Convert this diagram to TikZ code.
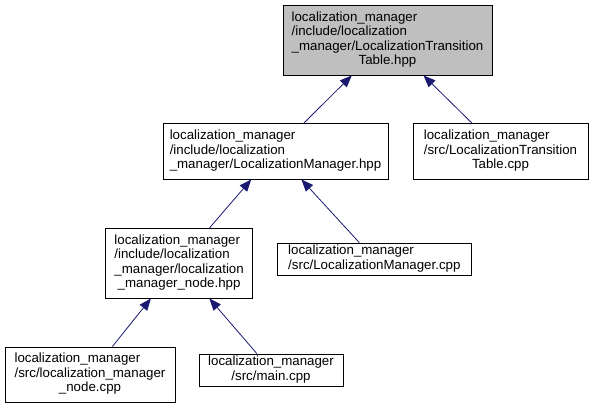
\documentclass[tikz,border=0pt]{standalone}
\usepackage{fontspec}
\setmainfont{Liberation Sans}
\usetikzlibrary{arrows.meta}
\definecolor{edgeblue}{RGB}{25,25,112}
\definecolor{nodegray}{RGB}{191,191,191}
\newcommand{\lastline}[1]{\multicolumn{1}{@{}c@{}}{#1}}
\begin{document}
\begin{tikzpicture}[x=1pt,y=-1pt,
  box/.style={draw=black, line width=0.9pt, fill=white, inner sep=0pt,
    font=\fontsize{13.3}{14.5}\selectfont},
  edge/.style={draw=edgeblue, line width=0.8pt, -{Triangle[length=12pt,width=9.5pt]}}]
\useasboundingbox (0,0) rectangle (593,408);
\node[box, fill=nodegray, minimum width=209pt, minimum height=70pt] (n1) at (387.5,40)
  {\begin{tabular}{@{}l@{}}localization\_manager\\/include/localization\\\_manager/LocalizationTransition\\\lastline{Table.hpp}\end{tabular}};
\node[box, minimum width=225pt, minimum height=55.5pt] (n2) at (275.5,151.25)
  {\begin{tabular}{@{}l@{}}localization\_manager\\/include/localization\\\_manager/LocalizationManager.hpp\end{tabular}};
\node[box, minimum width=175pt, minimum height=55.5pt] (n3) at (500.5,151.25)
  {\begin{tabular}{@{}l@{}}localization\_manager\\/src/LocalizationTransition\\\lastline{Table.cpp}\end{tabular}};
\node[box, minimum width=147pt, minimum height=69.5pt] (n4) at (179.1,263.25)
  {\begin{tabular}{@{}l@{}}localization\_manager\\/include/localization\\\_manager/localization\\\lastline{\_manager\_node.hpp}\end{tabular}};
\node[box, minimum width=194.7pt, minimum height=32pt] (n5) at (374.35,259)
  {\begin{tabular}{@{}l@{}}localization\_manager\\/src/LocalizationManager.cpp\end{tabular}};
\node[box, minimum width=170pt, minimum height=55pt] (n6) at (90,374.5)
  {\begin{tabular}{@{}l@{}}localization\_manager\\/src/localization\_manager\\\lastline{\_node.cpp}\end{tabular}};
\node[box, minimum width=144pt, minimum height=32pt] (n7) at (271,370)
  {\begin{tabular}{@{}l@{}}localization\_manager\\\lastline{/src/main.cpp}\end{tabular}};
\draw[edge] (n2) -- (n1);
\draw[edge] (n3) -- (n1);
\draw[edge] (n4) -- (n2);
\draw[edge] (n5) -- (n2);
\draw[edge] (n6) -- (n4);
\draw[edge] (n7) -- (n4);
\end{tikzpicture}
\end{document}
